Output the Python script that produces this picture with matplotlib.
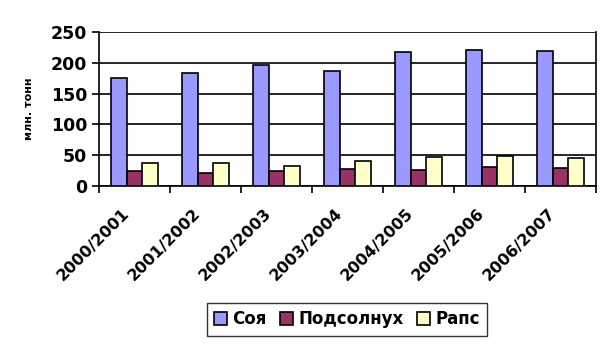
import numpy as np
import matplotlib.pyplot as plt
import matplotlib.transforms as mtransforms

# --- Données ---
seasons = ["2000/2001", "2001/2002", "2002/2003", "2003/2004",
           "2004/2005", "2005/2006", "2006/2007"]
soya = [175, 184, 196, 186, 217, 220, 219]
sunflower = [24, 21, 24, 27, 26, 31, 29]
rapeseed = [38, 37, 32, 40, 47, 49, 46]

names = ["Соя", "Подсолнух", "Рапс"]
colors = ["#9999ff", "#993366", "#ffffcc"]

fig = plt.figure(figsize=(6.13, 3.43), dpi=100)
ax = fig.add_axes([99/613, 1 - 186/343, 497/613, 154/343])

x = np.arange(len(seasons))
w = 0.225
for i, (vals, c, n) in enumerate(zip([soya, sunflower, rapeseed], colors, names)):
    ax.bar(x + (i - 1) * w, vals, w, color=c, edgecolor="black", linewidth=1.2,
           label=n, zorder=3)

ax.set_xlim(-0.5, len(seasons) - 0.5)
ax.set_ylim(0, 250)
ax.set_yticks(range(0, 251, 50))
ax.yaxis.grid(True, color="black", linewidth=1.2, zorder=0)
ax.set_axisbelow(True)

# ticks between categories
ax.set_xticks(np.arange(-0.5, len(seasons), 1.0))
ax.set_xticklabels([])
ax.set_xticks(x, minor=True)
ax.set_xticklabels(seasons, minor=True, rotation=45, ha="right",
                   rotation_mode="anchor", fontsize=11.5, fontweight="bold")
ax.tick_params(axis="x", which="minor", length=0, pad=10)
ax.tick_params(axis="x", which="major", length=5, width=1.2, direction="out")
ax.tick_params(axis="y", length=5, width=1.2, labelsize=12.5)
for lab in ax.get_yticklabels():
    lab.set_fontweight("bold")
# décalage des étiquettes vers la gauche
off = mtransforms.ScaledTranslation(-0.13, -0.06, fig.dpi_scale_trans)
for lab in ax.get_xticklabels(minor=True):
    lab.set_transform(lab.get_transform() + off)

for s in ax.spines.values():
    s.set_linewidth(1.2)
ax.spines["top"].set_visible(False)

ax.set_ylabel("млн. тонн", fontsize=8, fontweight="bold", labelpad=12)

fig.legend(loc="center", bbox_to_anchor=(347/613, 1 - 319/343), ncol=3,
           prop={"size": 12, "weight": "bold"}, frameon=True, fancybox=False,
           edgecolor="black", handlelength=0.8, handleheight=0.8,
           handletextpad=0.3, columnspacing=0.8, borderpad=0.45)

fig.savefig("out.png", dpi=100)
